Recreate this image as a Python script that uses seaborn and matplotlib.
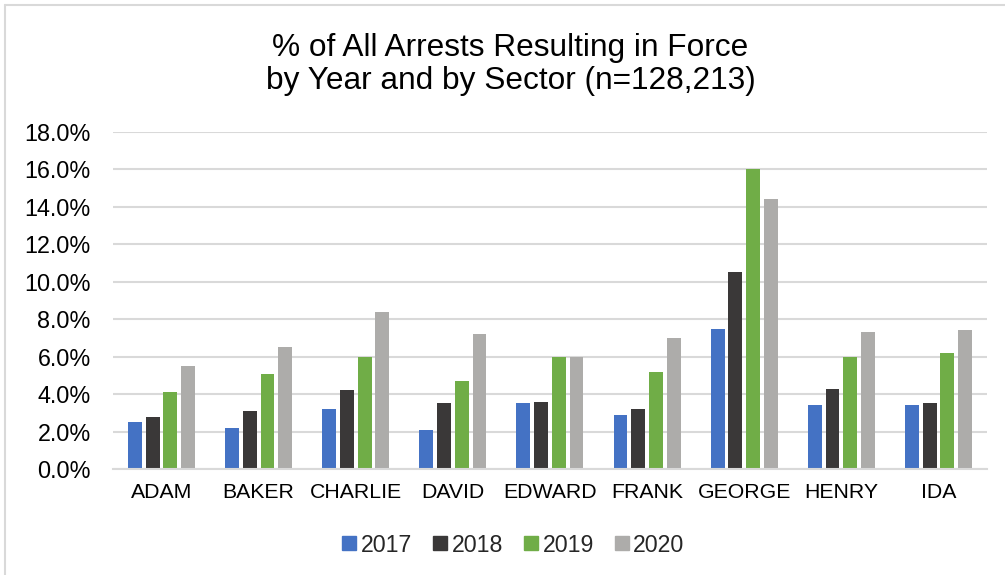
import matplotlib
matplotlib.use("Agg")
import matplotlib.pyplot as plt
import matplotlib.ticker as mticker
from matplotlib.lines import Line2D
import pandas as pd
import seaborn as sns

sectors = ["ADAM", "BAKER", "CHARLIE", "DAVID", "EDWARD", "FRANK", "GEORGE", "HENRY", "IDA"]
years = ["2017", "2018", "2019", "2020"]
pct_2017 = [2.5, 2.2, 3.2, 2.1, 3.5, 2.9, 7.5, 3.4, 3.4]
pct_2018 = [2.8, 3.1, 4.2, 3.5, 3.6, 3.2, 10.5, 4.3, 3.5]
pct_2019 = [4.1, 5.1, 6.0, 4.7, 6.0, 5.2, 16.0, 6.0, 6.2]
pct_2020 = [5.5, 6.5, 8.4, 7.2, 6.0, 7.0, 14.4, 7.3, 7.4]
year_colors = ["#4472C4", "#3A3838", "#70AD47", "#ADACAA"]

series = dict(zip(years, [pct_2017, pct_2018, pct_2019, pct_2020]))
df = pd.DataFrame(
    [(s, y, v) for y in years for s, v in zip(sectors, series[y])],
    columns=["Sector", "Year", "Pct"],
)

sns.set_theme(style="white")
plt.rcParams["font.family"] = ["Liberation Sans", "DejaVu Sans"]

fig = plt.figure(figsize=(10.05, 5.75), dpi=100)
ax = fig.add_axes([0.1124, 0.1843, 0.8697, 0.5861])

sns.barplot(
    data=df, x="Sector", y="Pct", hue="Year", order=sectors, hue_order=years,
    palette=year_colors, width=0.73, gap=0.22, linewidth=0,
    saturation=1, ax=ax, legend=False, zorder=3,
)

ax.set_ylim(0, 18)
ax.set_xlim(-0.5, len(sectors) - 0.5)
ax.yaxis.set_major_locator(mticker.MultipleLocator(2))
ax.yaxis.set_major_formatter(mticker.FuncFormatter(lambda v, _: f"{v:.1f}%"))
ax.grid(axis="y", color="#D9D9D9", linewidth=1.5, zorder=0)
ax.set_xlabel("")
ax.set_ylabel("")
for side in ["left", "right", "top"]:
    ax.spines[side].set_visible(False)
ax.spines["bottom"].set_color("#D9D9D9")
ax.spines["bottom"].set_linewidth(1.5)
ax.spines["bottom"].set_zorder(4)
ax.tick_params(axis="y", labelsize=16.8, pad=16, length=0, labelcolor="#000000")
ax.tick_params(axis="x", labelsize=15.3, pad=10, length=0, labelcolor="#000000")

fig.text(0.508, 0.888, "% of All Arrests Resulting in Force\nby Year and by Sector (n=128,213)",
         ha="center", va="center", fontsize=22.8, linespacing=1.12, color="#000000")

handles = [Line2D([0], [0], marker="s", linestyle="none", markersize=10,
                  markerfacecolor=c, markeredgecolor=c) for c in year_colors]
fig.legend(handles, years, loc="center", bbox_to_anchor=(0.511, 1 - 545 / 575),
           ncol=4, frameon=False, fontsize=16.7, handlelength=0.6,
           handletextpad=0.2, columnspacing=0.9)

# chart frame on the left and top edges
fig.add_artist(Line2D([5 / 1005, 5 / 1005], [0, 1 - 5 / 575], color="#D9D9D9", linewidth=1.5))
fig.add_artist(Line2D([5 / 1005, 1], [1 - 5 / 575, 1 - 5 / 575], color="#D9D9D9", linewidth=1.5))

fig.savefig("out.png", dpi=100)
